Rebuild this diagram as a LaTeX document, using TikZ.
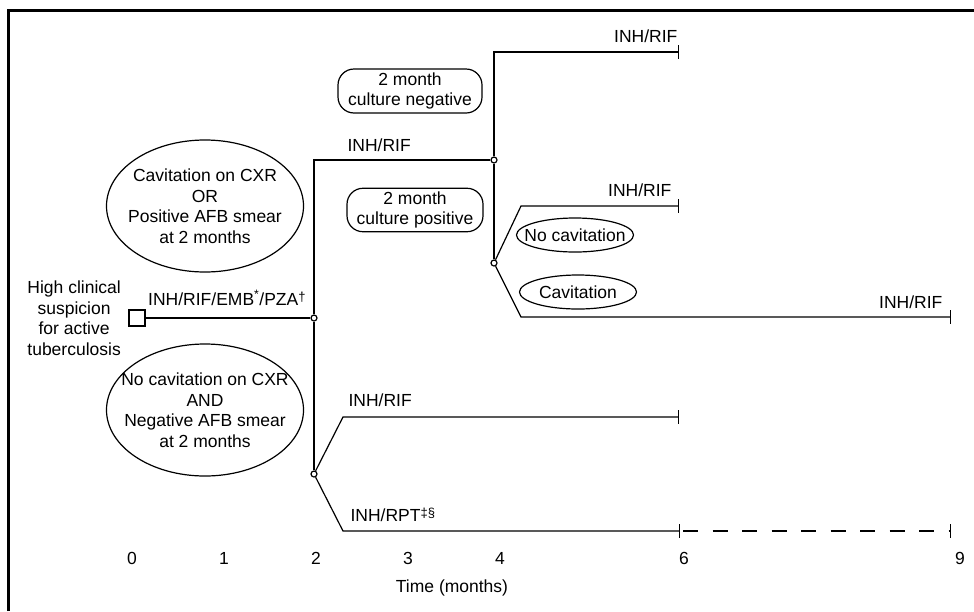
\documentclass[tikz,border=0pt]{standalone}
\usepackage{fontspec}
\setmainfont{Liberation Sans}
\usepackage{tikz}
\usetikzlibrary{shapes.geometric, positioning, arrows.meta}

\newcommand{\supmark}[1]{\raisebox{4pt}{\fontsize{13}{13}\selectfont #1}}

\tikzset{
  dot/.style={circle, draw, fill=white, inner sep=0pt, minimum size=6pt},
  oval/.style={ellipse, draw, align=center, inner sep=0pt},
  pill/.style={rectangle, rounded corners=16pt, draw, align=center, inner xsep=4pt},
  drug/.style={inner sep=0pt},
  endtick/.style={-{Bar[width=14pt]}},
}

\begin{document}
\begin{tikzpicture}[x=1pt, y=-1pt, line width=1.2pt, font=\fontsize{17.5}{20.5}\selectfont]
  \useasboundingbox (0,0) rectangle (974,611);
  \draw[line width=3pt] (8,611) -- (8,10) -- (974,10);

  \node[draw, minimum size=16pt, inner sep=0pt] (start) at (137,318) {};
  \node[left=7pt of start, align=center, inner sep=0pt] (susp) {High clinical\\suspicion\\for active\\tuberculosis};

  \node[dot] (d1) at (314,318) {};
  \node[dot] (d2) at (494,160) {};
  \node[dot] (d3) at (494,263) {};
  \node[dot] (d4) at (314,474) {};

  \coordinate (c1) at (314,160);
  \coordinate (e1) at (679,52);
  \coordinate (k1) at (521,206);
  \coordinate (e2) at (679,206);
  \coordinate (k2) at (521,317);
  \coordinate (e3) at (951,317);
  \coordinate (k3) at (343,417);
  \coordinate (e4) at (679,417);
  \coordinate (k4) at (343,531);
  \coordinate (e5) at (680,531);
  \coordinate (e6) at (951,531);

  \draw (start) -- (d1);
  \draw (d1) -- (c1) -- (d2);
  \draw (d1) -- (d4);
  \draw (d2) -- (d3);
  \draw[endtick] (d2) |- (e1);
  \draw[endtick] (d3) -- (k1) -- (e2);
  \draw[endtick] (d3) -- (k2) -- (e3);
  \draw[endtick] (d4) -- (k3) -- (e4);
  \draw[endtick] (d4) -- (k4) -- (e5);
  \draw[endtick, dash pattern=on 15pt off 14.5pt, dash phase=26.5pt] (e5) -- (e6);

  \node[drug, above right=12pt and 2pt of start.east] (l0) {INH/RIF/EMB\textsuperscript{*}/PZA\supmark{†}};
  \node[drug, above right=8pt and 33pt of c1] (lc) {INH/RIF};
  \node[drug, above left=9pt and 1pt of e1] (l1) {INH/RIF};
  \node[drug, above left=9pt and 7pt of e2] (l2) {INH/RIF};
  \node[drug, above left=8pt and 8pt of e3] (l3) {INH/RIF};
  \node[drug, above right=10pt and 5pt of k3] (l4) {INH/RIF};
  \node[drug, above right=9pt and 7pt of k4] (l5) {INH/RPT\supmark{‡§}};

  \node[oval, minimum width=197pt, minimum height=132pt, inner xsep=-15pt] (cavyes) at (205,206) {Cavitation on CXR\\OR\\Positive AFB smear\\at 2 months};
  \node[oval, minimum width=197pt, minimum height=132pt, inner xsep=-15pt] (cavno) at (205,410) {No cavitation on CXR\\AND\\Negative AFB smear\\at 2 months};
  \node[pill, minimum width=144pt, minimum height=44pt] (cultneg) at (410,91) {2 month\\culture negative};
  \node[pill, minimum width=136pt, minimum height=42pt] (cultpos) at (415,210) {2 month\\culture positive};
  \node[oval, minimum width=117pt, minimum height=34pt, inner xsep=-10pt] (nocav) at (575,235) {No cavitation};
  \node[oval, minimum width=117pt, minimum height=34pt, inner xsep=-10pt] (cav) at (578,292) {Cavitation};

  \foreach \m in {0,1,2,3,4,6,9}
    \node (t\m) at ({132+92*\m},558) {\m};
  \node (time) at (452,588) {Time (months)};
\end{tikzpicture}
\end{document}
